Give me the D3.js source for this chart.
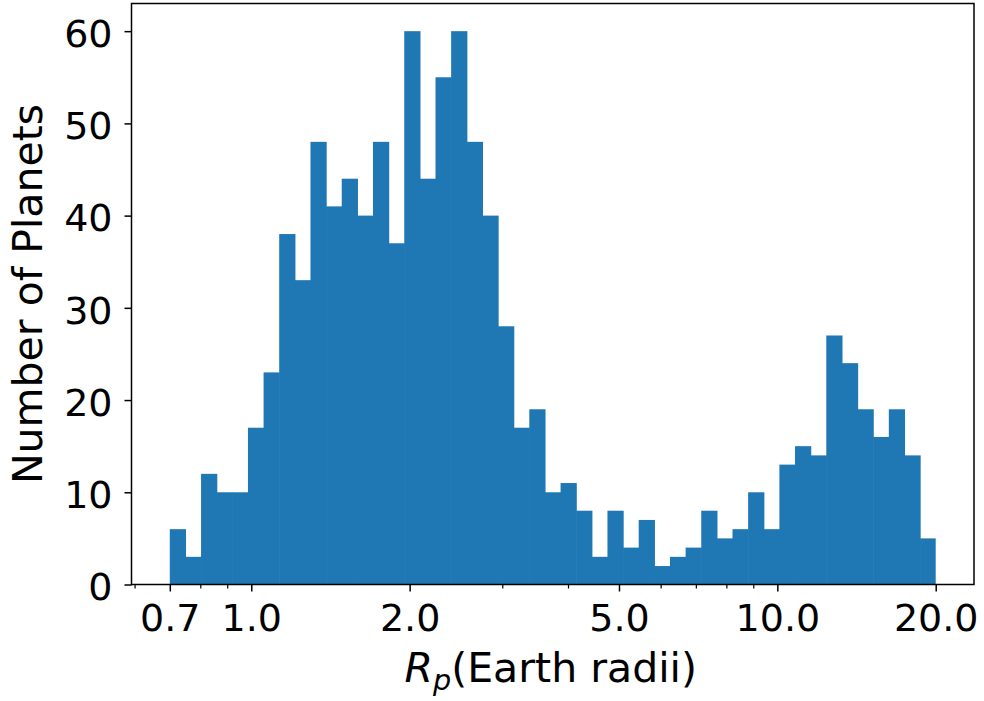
<!DOCTYPE html>
<html>
<head>
<meta charset="utf-8">
<script src="https://cdn.jsdelivr.net/npm/d3@7"></script>
<style>
  html, body { margin: 0; padding: 0; background: #fff; }
  svg { display: block; font-family: "DejaVu Sans", sans-serif; }
</style>
</head>
<body>
<svg id="chart" width="984" height="701"></svg>
<script>
// Planet radius histogram: 49 log-spaced bins from 0.7 to 20 Earth radii
const binRange = [0.7, 20];
const counts = [6, 3, 12, 10, 10, 17, 23, 38, 33, 48, 41, 44, 40, 48, 37,
                60, 44, 55, 60, 48, 40, 28, 17, 19, 10, 11, 8, 3, 8, 4, 7, 2, 3, 4,
                8, 5, 6, 10, 6, 13, 15, 14, 27, 24, 19, 16, 19, 14, 5];
const xMajorTicks = [0.7, 1, 2, 5, 10, 20];
const xMajorLabels = ["0.7", "1.0", "2.0", "5.0", "10.0", "20.0"];
const xMinorTicks = [0.6, 0.8, 0.9, 3, 4, 6, 7, 8, 9];
const yTicks = [0, 10, 20, 30, 40, 50, 60];

// bin edges, evenly spaced in log space (np.logspace-style)
const nBins = counts.length;
const lo = Math.log10(binRange[0]), hi = Math.log10(binRange[1]);
const edges = d3.range(nBins + 1).map(i => Math.pow(10, lo + (hi - lo) * i / nBins));
const bins = counts.map((c, i) => ({x0: edges[i], x1: edges[i + 1], count: c, last: i === nBins - 1}));

const plot = {left: 131.5, right: 974, top: 3.5, bottom: 584.5};
const pad = 0.05 * (hi - lo);

const x = d3.scaleLog()
  .domain([Math.pow(10, lo - pad), Math.pow(10, hi + pad)])
  .range([plot.left, plot.right]);
const y = d3.scaleLinear()
  .domain([0, 1.05 * d3.max(counts)])
  .range([plot.bottom, plot.top]);

const svg = d3.select("#chart");

// bars (a hair of overlap so neighbouring bars join without seams)
svg.append("g")
  .selectAll("rect")
  .data(bins)
  .join("rect")
  .attr("x", d => x(d.x0))
  .attr("y", d => y(d.count))
  .attr("width", d => x(d.x1) - x(d.x0) + (d.last ? 0 : 0.6))
  .attr("height", d => y(0) - y(d.count))
  .attr("fill", "#1f77b4");

const tickFont = 38;

// x axis: major ticks with labels
const xAxis = d3.axisBottom(x)
  .tickValues(xMajorTicks)
  .tickFormat((d, i) => xMajorLabels[i])
  .tickSize(7)
  .tickPadding(13);
const gx = svg.append("g")
  .attr("transform", `translate(0,${plot.bottom})`)
  .call(xAxis);
gx.select(".domain").remove();
gx.selectAll("line").attr("stroke", "#000").attr("stroke-width", 1.5);
gx.selectAll("text")
  .attr("font-size", tickFont)
  .attr("font-family", "DejaVu Sans")
  .attr("fill", "#000");

// x axis: minor ticks
const xMinor = d3.axisBottom(x)
  .tickValues(xMinorTicks)
  .tickFormat("")
  .tickSize(4);
const gxm = svg.append("g")
  .attr("transform", `translate(0,${plot.bottom})`)
  .call(xMinor);
gxm.select(".domain").remove();
gxm.selectAll("line").attr("stroke", "#000").attr("stroke-width", 1.2);

// y axis
const yAxis = d3.axisLeft(y)
  .tickValues(yTicks)
  .tickFormat(d3.format("d"))
  .tickSize(7)
  .tickPadding(12);
const gy = svg.append("g")
  .attr("transform", `translate(${plot.left},0)`)
  .call(yAxis);
gy.select(".domain").remove();
gy.selectAll("line").attr("stroke", "#000").attr("stroke-width", 1.5);
gy.selectAll("text")
  .attr("font-size", tickFont)
  .attr("font-family", "DejaVu Sans")
  .attr("dy", "0.4em")
  .attr("fill", "#000");

// frame
svg.append("rect")
  .attr("x", plot.left)
  .attr("y", plot.top)
  .attr("width", plot.right - plot.left)
  .attr("height", plot.bottom - plot.top)
  .attr("fill", "none")
  .attr("stroke", "#000")
  .attr("stroke-width", 1.5);

// axis titles
const labelFont = 41;
const xl = svg.append("text")
  .attr("x", (plot.left + plot.right) / 2 - 2)
  .attr("y", 682)
  .attr("text-anchor", "middle")
  .attr("font-size", labelFont)
  .attr("fill", "#000");
xl.append("tspan").attr("font-style", "italic").text("R");
xl.append("tspan").attr("font-style", "italic")
  .attr("font-size", labelFont * 0.7)
  .attr("dy", 8).text("p");
xl.append("tspan").attr("dy", -8).text("(Earth radii)");

svg.append("text")
  .attr("transform", `translate(42,${(plot.top + plot.bottom) / 2}) rotate(-90)`)
  .attr("text-anchor", "middle")
  .attr("font-size", labelFont)
  .attr("fill", "#000")
  .text("Number of Planets");
</script>
</body>
</html>
